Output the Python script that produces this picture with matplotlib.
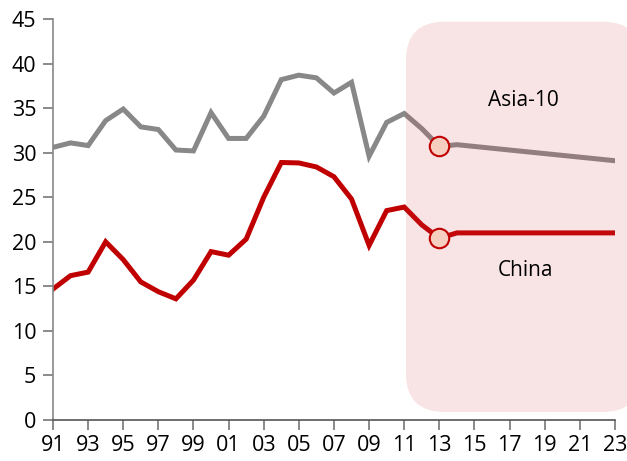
import numpy as np
import matplotlib.pyplot as plt
from matplotlib.patches import FancyBboxPatch

plt.rcParams['font.family'] = ['Open Sans', 'DejaVu Sans']

years = np.arange(1991, 2024)
# Asia-10 and China, 1991-2023 (2014 onwards is the projection)
asia10 = [30.6, 31.1, 30.8, 33.6, 34.9, 32.9, 32.6, 30.3, 30.2, 34.5,
          31.6, 31.6, 34.1, 38.2, 38.7, 38.4, 36.7, 37.9, 29.6, 33.4,
          34.4, 32.7, 30.7, 30.9, 30.7, 30.5, 30.3, 30.1, 29.9, 29.7,
          29.5, 29.3, 29.1]
china = [14.7, 16.2, 16.6, 20.0, 18.0, 15.5, 14.4, 13.6, 15.7, 18.9,
         18.5, 20.3, 25.0, 28.9, 28.85, 28.4, 27.3, 24.8, 19.6, 23.5,
         23.9, 21.9, 20.4, 21.0, 21.0, 21.0, 21.0, 21.0, 21.0, 21.0,
         21.0, 21.0, 21.0]
marker_year = 2013
forecast_from = 2011.1
forecast_to = 2024.5
xticks = np.arange(1991, 2024, 2)
yticks = np.arange(0, 46, 5)

fig = plt.figure(figsize=(6.27, 4.61), dpi=100)
ax = fig.add_axes([0.0845, 0.0889, 0.8963, 0.8698])

ax.plot(years, asia10, color='#888888', lw=3.6, solid_joinstyle='miter', zorder=2)
ax.plot(years, china, color='#c00000', lw=3.6, solid_joinstyle='miter', zorder=2)

# shaded projection window, drawn semi-transparent over the lines
x_unit = 562 / 32
y_unit = 401 / 45
box = FancyBboxPatch((forecast_from, 0.9), forecast_to - forecast_from, 44.7 - 0.9,
                     boxstyle='round,pad=0,rounding_size=2.2',
                     mutation_aspect=x_unit / y_unit,
                     fc='#d23c4b', alpha=0.14, ec='none', zorder=3,
                     clip_on=False)
ax.add_patch(box)

i = list(years).index(marker_year)
for series in (asia10, china):
    ax.plot(marker_year, series[i], 'o', ms=14, mfc='#f6cfc0', mec='#c00000',
            mew=1.5, zorder=5)

ax.text(2017.8, 35.9, 'Asia-10', fontsize=15, ha='center', va='center', zorder=6)
ax.text(2017.9, 16.8, 'China', fontsize=15, ha='center', va='center', zorder=6)

ax.set_xlim(1991, 2023)
ax.set_ylim(0, 45)
ax.set_xticks(xticks)
ax.set_xticklabels(['%02d' % (y % 100) for y in xticks])
ax.set_yticks(yticks)
ax.tick_params(axis='both', labelsize=15.5, length=7, width=1.2, color='#777777')
ax.tick_params(axis='x', pad=4)
ax.tick_params(axis='y', pad=5)

for s in ('top', 'right'):
    ax.spines[s].set_visible(False)
ax.spines['left'].set_color('#888888')
ax.spines['bottom'].set_color('#555555')
ax.spines['left'].set_linewidth(1.2)
ax.spines['bottom'].set_linewidth(1.2)

fig.savefig('out.png', dpi=100)
